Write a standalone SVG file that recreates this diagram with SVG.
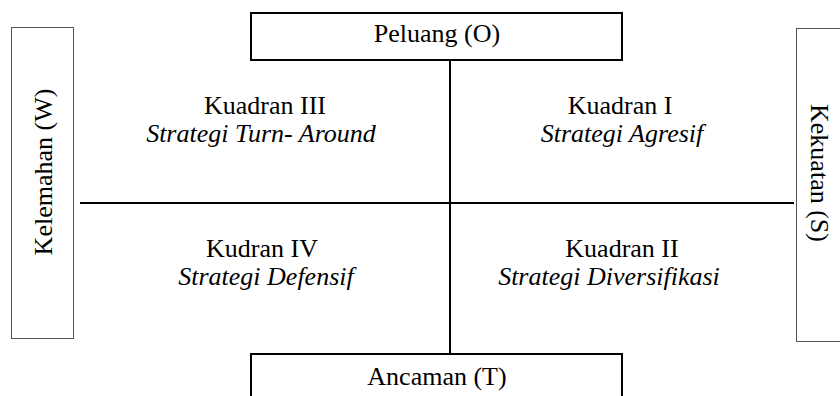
<svg xmlns="http://www.w3.org/2000/svg" width="840" height="396" viewBox="0 0 840 396">
<style>
text{font-family:'Liberation Serif','Times New Roman','DejaVu Serif',serif;font-size:26px;fill:#000;text-anchor:middle}
.i{font-style:italic}
.box{fill:#fff;stroke:#000;stroke-width:2}
.side{fill:#fff;stroke:#555;stroke-width:1}
.ax{stroke:#000;stroke-width:2;fill:none}
</style>
<rect width="840" height="396" fill="#fff"/>
<g id="connectors">
<line class="ax" x1="450" y1="60" x2="450" y2="354"/>
<line class="ax" x1="80" y1="203" x2="794" y2="203"/>
</g>
<g id="peluang"><rect class="box" x="251" y="13" width="371" height="47"/><text x="437" y="42">Peluang (O)</text></g>
<g id="ancaman"><rect class="box" x="251" y="354" width="371" height="60"/><text x="437" y="385">Ancaman (T)</text></g>
<g id="kelemahan"><rect class="side" x="11.5" y="27.5" width="62" height="311"/><text transform="translate(52,172) rotate(-90)">Kelemahan (W)</text></g>
<g id="kekuatan"><rect class="side" x="796.5" y="28.5" width="60" height="313"/><text transform="translate(811,173) rotate(90)">Kekuatan (S)</text></g>
<g id="q3"><text x="265" y="114">Kuadran III</text><text class="i" x="261" y="142">Strategi Turn- Around</text></g>
<g id="q1"><text x="620" y="114">Kuadran I</text><text class="i" x="622" y="142">Strategi Agresif</text></g>
<g id="q4"><text x="262" y="257">Kudran IV</text><text class="i" x="266" y="285">Strategi Defensif</text></g>
<g id="q2"><text x="622" y="257">Kuadran II</text><text class="i" x="609" y="285">Strategi Diversifikasi</text></g>
</svg>
